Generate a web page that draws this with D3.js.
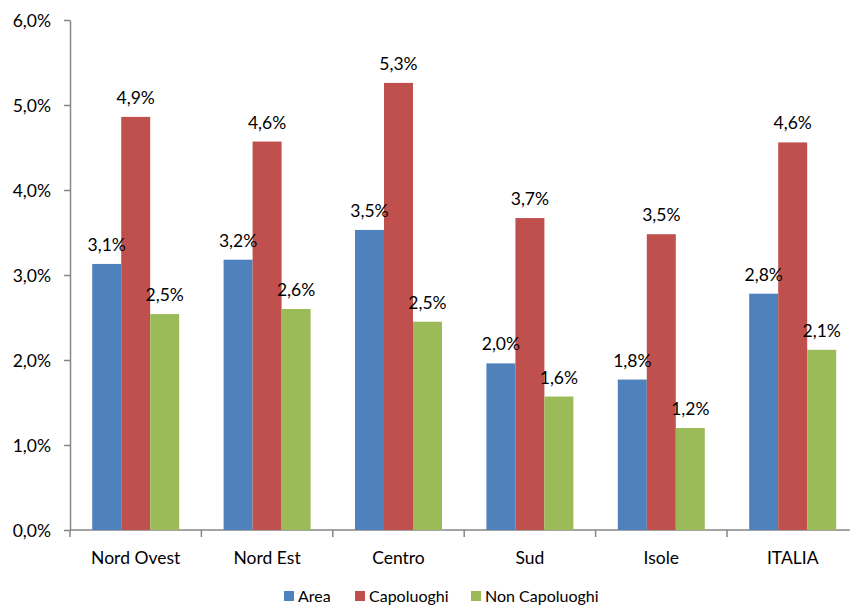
<!DOCTYPE html>
<meta charset="utf-8">
<style>
    body { margin: 0; background: #fff; }
    text {
        font-family: Lato, "Open Sans", sans-serif;
        font-size: 17.5px;
        fill: #000;
    }
    .axis path, .axis line { stroke: #868686; stroke-width: 1.5px; }
</style>
<svg width="850" height="607"></svg>
<script src="https://d3js.org/d3.v7.min.js"></script>
<script>
    const categories = ["Nord Ovest", "Nord Est", "Centro", "Sud", "Isole", "ITALIA"];
    const seriesNames = ["Area", "Capoluoghi", "Non Capoluoghi"];
    const seriesColors = ["#4F81BD", "#C0504D", "#9BBB59"];
    const area = [3.13, 3.18, 3.53, 1.96, 1.77, 2.78];
    const capoluoghi = [4.86, 4.57, 5.26, 3.67, 3.48, 4.56];
    const nonCapoluoghi = [2.54, 2.60, 2.45, 1.57, 1.20, 2.12];
    const yTicks = [0, 1, 2, 3, 4, 5, 6];

    const series = [area, capoluoghi, nonCapoluoghi];
    const svg = d3.select("svg");

    const plotLeft = 70, plotBottom = 530, plotTop = 20;
    const step = 131.4;

    const x0 = d3.scaleBand()
        .domain(categories)
        .range([plotLeft, plotLeft + step * categories.length])
        .paddingInner(0.338)
        .paddingOuter(0.169);

    const x1 = d3.scaleBand()
        .domain(seriesNames)
        .range([0, x0.bandwidth()]);

    const y = d3.scaleLinear().domain([0, 6]).range([plotBottom, plotTop]);

    const fmt = v => d3.format(".1f")(v).replace(".", ",") + "%";

    // y axis
    const yAxis = svg.append("g")
        .attr("class", "axis")
        .attr("transform", "translate(" + plotLeft + ",0)")
        .call(d3.axisLeft(y).tickValues(yTicks).tickSize(6).tickSizeOuter(0).tickFormat(fmt));
    yAxis.selectAll("text").attr("x", -19).attr("dy", "0.35em")
        .style("font-size", "17.5px").style("font-family", "Lato, sans-serif").attr("fill", "#000");

    // x axis line + ticks at category boundaries
    const xg = svg.append("g").attr("class", "axis");
    xg.append("line")
        .attr("x1", plotLeft).attr("x2", 850)
        .attr("y1", plotBottom).attr("y2", plotBottom);
    const bounds = d3.range(categories.length + 1).map(i => plotLeft + step * i);
    xg.selectAll(".tk").data(bounds).enter().append("line")
        .attr("x1", d => d).attr("x2", d => d)
        .attr("y1", plotBottom).attr("y2", plotBottom + 7);

    svg.append("g").selectAll("text").data(categories).enter().append("text")
        .attr("x", d => x0(d) + x0.bandwidth() / 2)
        .attr("y", 564)
        .attr("text-anchor", "middle")
        .text(d => d);

    // bars
    const groups = svg.append("g").selectAll("g")
        .data(categories).enter().append("g")
        .attr("transform", d => "translate(" + x0(d) + ",0)");

    groups.selectAll("rect")
        .data((d, i) => seriesNames.map((s, j) => ({ s: s, j: j, v: series[j][i] })))
        .enter().append("rect")
        .attr("x", d => x1(d.s))
        .attr("width", x1.bandwidth())
        .attr("y", d => y(d.v))
        .attr("height", d => plotBottom - y(d.v))
        .attr("fill", d => seriesColors[d.j]);

    groups.selectAll("text")
        .data((d, i) => seriesNames.map((s, j) => ({ s: s, j: j, v: series[j][i] })))
        .enter().append("text")
        .attr("x", d => x1(d.s) + x1.bandwidth() / 2)
        .attr("y", d => y(d.v) - 13)
        .attr("text-anchor", "middle")
        .text(d => fmt(d.v));

    // legend
    const legendX = [284, 355, 471];
    const legend = svg.append("g").selectAll("g")
        .data(seriesNames).enter().append("g")
        .attr("transform", (d, i) => "translate(" + legendX[i] + ",591)");
    legend.append("rect")
        .attr("width", 10).attr("height", 10)
        .attr("fill", (d, i) => seriesColors[i]);
    legend.append("text")
        .attr("x", 14).attr("y", 11)
        .style("font-size", "16px")
        .text(d => d);
</script>
